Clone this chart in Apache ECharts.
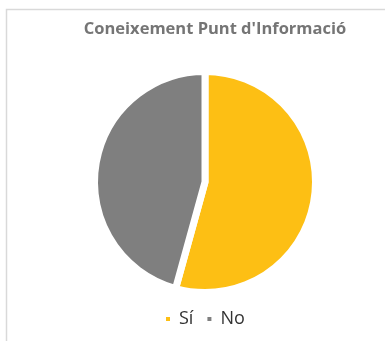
<!DOCTYPE html>
<html>
<head>
<meta charset="utf-8">
<script src="https://cdn.jsdelivr.net/npm/echarts@6/dist/echarts.min.js"></script>
<style>
  html, body { margin: 0; padding: 0; background: #ffffff; overflow: hidden; }
  #chart { width: 385px; height: 341px; }
</style>
</head>
<body>
<div id="chart"></div>
<script>
// Survey answers: knowledge of the information point
const chartTitle = "Coneixement Punt d'Informació";
const answers = ['Sí', 'No'];
const counts = [19, 16];
const sliceColors = ['#FDBF14', '#7F7F7F'];

const chart = echarts.init(document.getElementById('chart'), null, { renderer: 'canvas' });

chart.setOption({
  backgroundColor: '#ffffff',
  animation: false,
  title: {
    text: chartTitle,
    left: 210,
    textAlign: 'center',
    top: 16,
    textStyle: {
      fontFamily: '"Open Sans", sans-serif',
      fontWeight: 'bold',
      fontSize: 16.5,
      color: '#757575'
    }
  },
  legend: {
    data: answers,
    left: 159,
    top: 305,
    icon: 'rect',
    itemWidth: 6,
    itemHeight: 6,
    itemGap: 12,
    textStyle: {
      fontFamily: '"Open Sans", sans-serif',
      fontSize: 18,
      color: '#333333',
      padding: [0, 0, 0, 3]
    }
  },
  graphic: [{
    type: 'rect',
    silent: true,
    shape: { x: 6.5, y: 9.5, width: 500, height: 500 },
    style: { fill: 'none', stroke: '#D9D9D9', lineWidth: 1.5 }
  }],
  series: [{
    type: 'pie',
    center: [205, 182],
    radius: 110.5,
    startAngle: 90,
    clockwise: true,
    label: { show: false },
    labelLine: { show: false },
    emphasis: { disabled: true },
    itemStyle: { borderColor: '#ffffff', borderWidth: 7 },
    data: answers.map((name, i) => ({
      name,
      value: counts[i],
      itemStyle: { color: sliceColors[i] }
    }))
  }]
});
</script>
</body>
</html>
